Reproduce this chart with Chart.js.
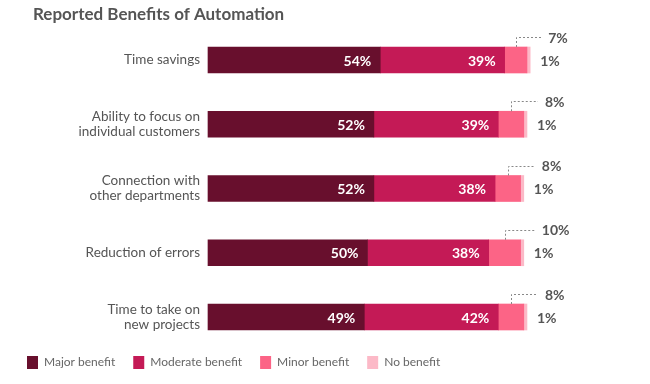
<!DOCTYPE html>
<html><head><meta charset="utf-8">
<script src="https://cdn.jsdelivr.net/npm/chart.js@4/dist/chart.umd.min.js"></script>
<style>html,body{margin:0;padding:0;background:#fff}#wrap{width:650px;height:384px}</style>
</head><body><div id="wrap"><canvas id="c" width="650" height="384"></canvas></div>
<script>
const chartTitle = "Reported Benefits of Automation";
const categories = [["Time savings"],["Ability to focus on","individual customers"],["Connection with","other departments"],["Reduction of errors"],["Time to take on","new projects"]];
const seriesNames = ["Major benefit","Moderate benefit","Minor benefit","No benefit"];
const majorBenefit = [54,52,52,50,49];
const moderateBenefit = [39,39,38,38,42];
const minorBenefit = [7,8,8,10,8];
const noBenefit = [1,1,1,1,1];
const colors = ["#680f2d","#c41a56","#fc6486","#fcb9c7"];
const FONT = "Lato, sans-serif";

const titlePlugin = {
  id: 'leftTitle',
  afterDraw(chart) {
    const ctx = chart.ctx;
    ctx.save();
    ctx.font = "bold 17px " + FONT;
    ctx.fillStyle = "#555";
    ctx.textAlign = "left";
    ctx.textBaseline = "middle";
    ctx.fillText(chartTitle, 33, 15);
    ctx.restore();
  }
};

const labelPlugin = {
  id: 'segLabels',
  afterDatasetsDraw(chart) {
    const ctx = chart.ctx;
    const metas = [0,1,2,3].map(i => chart.getDatasetMeta(i));
    ctx.save();
    for (let j = 0; j < categories.length; j++) {
      for (let d = 0; d < 2; d++) {
        const b = metas[d].data[j];
        ctx.font = "bold 14px " + FONT;
        ctx.fillStyle = "#ffffff";
        ctx.textAlign = "right";
        ctx.textBaseline = "middle";
        ctx.fillText(chart.data.datasets[d].data[j] + "%", b.x - 9, b.y + 1);
      }
      const minor = metas[2].data[j];
      const none = metas[3].data[j];
      const top = minor.y - minor.height / 2;
      const cx = (minor.base + minor.x) / 2;
      const ly = top - 10;
      ctx.strokeStyle = "#888";
      ctx.lineWidth = 1;
      ctx.setLineDash([2, 2]);
      ctx.beginPath();
      ctx.moveTo(Math.round(cx) + 0.5, top);
      ctx.lineTo(Math.round(cx) + 0.5, Math.round(ly) + 0.5);
      ctx.lineTo(none.x + 11, Math.round(ly) + 0.5);
      ctx.stroke();
      ctx.setLineDash([]);
      ctx.font = "bold 14px " + FONT;
      ctx.fillStyle = "#555";
      ctx.textAlign = "left";
      ctx.textBaseline = "middle";
      ctx.fillText(minorBenefit[j] + "%", none.x + 18, ly + 1);
      ctx.fillText(noBenefit[j] + "%", none.x + 10, none.y + 1);
    }
    ctx.restore();
  }
};

new Chart(document.getElementById('c'), {
  type: 'bar',
  data: {
    labels: categories,
    datasets: [
      {label: seriesNames[0], data: majorBenefit, backgroundColor: colors[0]},
      {label: seriesNames[1], data: moderateBenefit, backgroundColor: colors[1]},
      {label: seriesNames[2], data: minorBenefit, backgroundColor: colors[2]},
      {label: seriesNames[3], data: noBenefit, backgroundColor: colors[3]}
    ]
  },
  options: {
    indexAxis: 'y',
    responsive: false,
    animation: false,
    layout: {padding: {left: 9, right: 5, top: 60, bottom: 5}},
    datasets: {bar: {barThickness: 26, borderWidth: 0, clip: false}},
    scales: {
      x: {stacked: true, min: 0, max: 137, display: true,
        grid: {display: false, drawTicks: false}, border: {display: false},
        ticks: {display: false},
        title: {display: true, text: ' ', padding: 0, font: {size: 17.5, lineHeight: 1.2}}},
      y: {
        stacked: true,
        offset: false,
        grid: {display: false, drawTicks: false},
        border: {display: false},
        ticks: {color: '#555', font: {family: FONT, size: 13.5, lineHeight: 1.1}, padding: 8},
        afterFit(s) { s.width = 199; }
      }
    },
    plugins: {
      title: {display: false},
      legend: {position: 'bottom', align: 'start',
        labels: {boxWidth: 11, boxHeight: 13, padding: 18, color: '#666', font: {family: FONT, size: 12}}},
      tooltip: {enabled: false}
    }
  },
  plugins: [labelPlugin, titlePlugin]
});
</script></body></html>
